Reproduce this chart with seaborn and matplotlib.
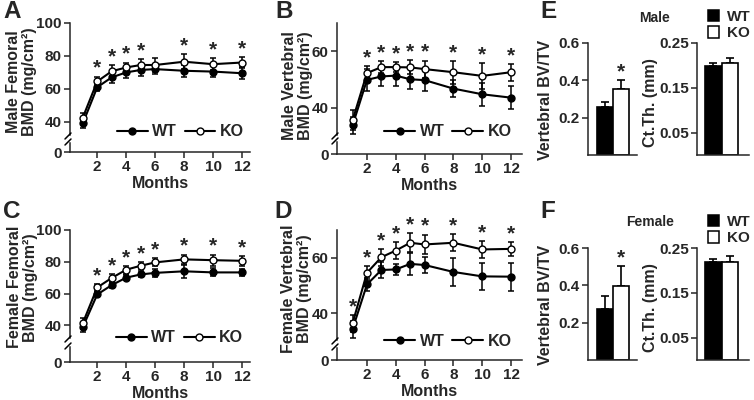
import numpy as np
import pandas as pd
import matplotlib
matplotlib.use("Agg")
import matplotlib.pyplot as plt
import seaborn as sns
from matplotlib.lines import Line2D
from matplotlib.patches import Patch

# ---------------- data ----------------
months = [1, 2, 3, 4, 5, 6, 8, 10, 12]
month_ticks = [2, 4, 6, 8, 10, 12]

# A: male femoral BMD
a_wt = [39.0, 61.0, 67.0, 70.0, 71.5, 72.0, 71.0, 70.5, 69.5]
a_wt_err = [3.0, 2.0, 3.5, 3.5, 3.5, 3.0, 3.5, 3.5, 3.5]
a_ko = [42.5, 64.5, 70.7, 73.0, 74.5, 74.5, 76.5, 75.0, 76.0]
a_ko_err = [3.0, 3.0, 3.5, 3.0, 3.5, 4.5, 4.5, 3.5, 3.5]
a_sig = [2, 3, 4, 5, 8, 10, 12]

# B: male vertebral BMD
b_wt = [33.8, 49.9, 51.1, 51.4, 50.1, 49.8, 46.8, 44.8, 43.6]
b_wt_err = [3.0, 4.0, 3.5, 3.5, 3.5, 4.0, 3.0, 4.0, 4.0]
b_ko = [35.6, 52.3, 54.4, 54.4, 54.3, 53.7, 52.6, 51.3, 52.6]
b_ko_err = [3.5, 2.5, 2.0, 1.7, 2.5, 3.0, 4.0, 4.5, 3.0]
b_sig = [2, 3, 4, 5, 6, 8, 10, 12]

# C: female femoral BMD
c_wt = [38.8, 59.4, 65.3, 70.0, 72.0, 73.0, 74.0, 73.3, 73.3]
c_wt_err = [3.0, 1.5, 2.0, 1.5, 1.5, 2.5, 4.0, 2.5, 2.0]
c_ko = [41.3, 63.8, 69.8, 75.0, 77.5, 79.6, 81.5, 81.0, 80.6]
c_ko_err = [3.0, 2.0, 2.5, 2.5, 2.5, 2.5, 3.0, 3.5, 3.0]
c_sig = [2, 3, 4, 5, 6, 8, 10, 12]

# D: female vertebral BMD
d_wt = [34.3, 50.4, 55.6, 55.8, 57.8, 57.4, 54.9, 53.3, 53.2]
d_wt_err = [3.0, 2.5, 3.0, 2.0, 4.0, 3.0, 5.0, 5.0, 5.0]
d_ko = [36.4, 54.6, 60.2, 62.6, 65.4, 64.8, 65.4, 63.0, 63.2]
d_ko_err = [3.0, 2.5, 3.0, 3.0, 3.5, 3.5, 3.0, 3.0, 2.5]
d_sig = [1, 2, 3, 4, 5, 6, 8, 10, 12]

genotypes = ["WT", "KO"]
# E: male bars
e_bvtv = [0.258, 0.353]
e_bvtv_err = [0.027, 0.047]
e_ctth = [0.199, 0.2056]
e_ctth_err = [0.007, 0.012]
e_sig = ["KO"]
# F: female bars
f_bvtv = [0.272, 0.398]
f_bvtv_err = [0.072, 0.105]
f_ctth = [0.218, 0.2196]
f_ctth_err = [0.008, 0.012]
f_sig = ["KO"]

# ---------------- style ----------------
sns.set_theme(style="ticks")
plt.rcParams["font.family"] = ["Liberation Sans", "DejaVu Sans"]
plt.rcParams["font.weight"] = "bold"
plt.rcParams["axes.labelweight"] = "bold"
plt.rcParams["axes.linewidth"] = 1.1

W, H = 754, 400
fig = plt.figure(figsize=(W / 100, H / 100), dpi=100)


def rect(l, t, r, b):
    return [l / W, 1 - b / H, (r - l) / W, (b - t) / H]


def slash(x, y):
    fig.add_artist(Line2D([(x - 5) / W, (x + 1) / W], [1 - (y + 3) / H, 1 - (y - 3) / H],
                          color="black", lw=1.1))


def letter(x, y_top, s):
    fig.text(x / W, 1 - y_top / H, s, fontsize=17.5, fontweight="bold",
             ha="center", va="top")


def line_panel(top_rect, bot_rect, ylim, yticks, xlim, wt, wt_err, ko, ko_err, sig,
               ylabel, ylab_xy, leg_xy, star_off):
    ax = fig.add_axes(rect(*top_rect))
    axb = fig.add_axes(rect(*bot_rect), sharex=ax)
    ax.errorbar(months, wt, yerr=wt_err, fmt="none", ecolor="black", elinewidth=1.1,
                capsize=2.5, capthick=1.1, zorder=2)
    ax.errorbar(months, ko, yerr=ko_err, fmt="none", ecolor="black", elinewidth=1.1,
                capsize=2.5, capthick=1.1, zorder=2)
    sns.lineplot(x=months, y=wt, ax=ax, color="black", marker="o", markersize=5,
                 markerfacecolor="black", markeredgecolor="black", markeredgewidth=1.0,
                 linewidth=1.5, label="WT", zorder=3)
    sns.lineplot(x=months, y=ko, ax=ax, color="black", marker="o", markersize=5,
                 markerfacecolor="white", markeredgecolor="black", markeredgewidth=1.0,
                 linewidth=1.5, label="KO", zorder=4)
    for m, v, e in zip(months, ko, ko_err):
        if m in sig:
            ax.annotate("*", xy=(m, v + e), xytext=(0, star_off), textcoords="offset points",
                        ha="center", va="center", fontsize=15, fontweight="bold")
    ax.set_ylim(*ylim)
    ax.set_yticks(yticks)
    ax.set_xlim(*xlim)
    sns.despine(ax=ax, top=True, right=True, bottom=True)
    ax.tick_params(axis="x", bottom=False, labelbottom=False)
    ax.tick_params(axis="y", direction="out", length=4, width=1.1, labelsize=11, pad=2)
    ax.set_xlabel("")
    ax.set_ylabel(ylabel, fontsize=11.5, fontweight="bold", linespacing=1.1)
    ax.yaxis.set_label_coords(*ylab_xy)
    ax.legend(loc="center", bbox_to_anchor=leg_xy, ncol=2, frameon=False,
              prop={"weight": "bold", "size": 11.5}, handlelength=1.9,
              handletextpad=0.3, columnspacing=0.5, borderpad=0)
    axb.set_ylim(0, 1)
    axb.set_yticks([0])
    axb.set_xticks(month_ticks)
    sns.despine(ax=axb, top=True, right=True)
    axb.tick_params(axis="y", direction="out", length=4, width=1.1, labelsize=11, pad=2)
    axb.tick_params(axis="x", direction="out", length=4, width=1.1, labelsize=11, pad=2)
    axb.set_xlabel("Months", fontsize=11.5, fontweight="bold", labelpad=1)
    axb.patch.set_alpha(0)
    ax.patch.set_alpha(0)
    # break marks
    slash(top_rect[0], top_rect[3] + 1)
    slash(bot_rect[0], bot_rect[1] - 1)
    return ax


line_panel((70, 23, 250, 135), (70, 143, 250, 152), (32, 100), [40, 60, 80, 100],
           (0.12, 12.55), a_wt, a_wt_err, a_ko, a_ko_err, a_sig,
           "Male Femoral\nBMD (mg/cm²)", (-0.183, 0.48), (0.615, 0.03), 6)
line_panel((337, 23, 522, 135), (337, 142, 522, 154), (30.4, 70), [40, 60],
           (-0.08, 12.76), b_wt, b_wt_err, b_ko, b_ko_err, b_sig,
           "Male Vertebral\nBMD (mg/cm²)", (-0.13, 0.44), (0.6, 0.03), 6)
line_panel((70, 230, 250, 338), (70, 347, 250, 362), (32, 100), [40, 60, 80, 100],
           (0.12, 12.55), c_wt, c_wt_err, c_ko, c_ko_err, c_sig,
           "Female Femoral\nBMD (mg/cm²)", (-0.178, 0.47), (0.61, 0.0), 6)
line_panel((337, 230, 522, 340), (337, 348, 522, 360), (30.4, 70), [40, 60],
           (-0.08, 12.76), d_wt, d_wt_err, d_ko, d_ko_err, d_sig,
           "Female Vertebral\nBMD (mg/cm²)", (-0.135, 0.47), (0.6, -0.01), 6)


def bar_panel(r, vals, errs, sig, ylim, yticks, ylabel, ylab_xy, xlim):
    ax = fig.add_axes(rect(*r))
    df = pd.DataFrame({"Genotype": genotypes, "value": vals})
    sns.barplot(data=df, x="Genotype", y="value", hue="Genotype",
                palette={"WT": "black", "KO": "white"}, edgecolor="black",
                linewidth=1.2, width=1.0, errorbar=None, legend=False, ax=ax, zorder=2)
    ax.errorbar([0, 1], vals, yerr=[[0, 0], errs], fmt="none", ecolor="black",
                elinewidth=1.2, capsize=3, capthick=1.2, zorder=1)
    for i, g in enumerate(genotypes):
        if g in sig:
            ax.annotate("*", xy=(i, vals[i] + errs[i]), xytext=(0, 6),
                        textcoords="offset points", ha="center", va="center",
                        fontsize=15, fontweight="bold")
    ax.set_ylim(*ylim)
    ax.set_yticks(yticks)
    ax.set_xlim(*xlim)
    ax.set_xticks([])
    ax.set_xlabel("")
    sns.despine(ax=ax, top=True, right=True)
    ax.tick_params(axis="y", direction="out", length=4, width=1.1, labelsize=11, pad=2)
    ax.set_ylabel(ylabel, fontsize=11.5, fontweight="bold")
    ax.yaxis.set_label_coords(*ylab_xy)
    ax.patch.set_alpha(0)
    return ax


bar_panel((588, 43, 637, 155), e_bvtv, e_bvtv_err, e_sig, (0, 0.6), [0.2, 0.4, 0.6],
          "Vertebral BV/TV", (-0.714, 0.49), (-1.06, 2.0))
bar_panel((697, 43, 749, 155), e_ctth, e_ctth_err, [], (0, 0.25), [0.05, 0.15, 0.25],
          "Ct.Th. (mm)", (-0.75, 0.47), (-0.98, 2.15))
bar_panel((588, 248, 637, 360), f_bvtv, f_bvtv_err, f_sig, (0, 0.6), [0.2, 0.4, 0.6],
          "Vertebral BV/TV", (-0.714, 0.49), (-1.06, 2.0))
bar_panel((697, 248, 749, 360), f_ctth, f_ctth_err, [], (0, 0.25), [0.05, 0.15, 0.25],
          "Ct.Th. (mm)", (-0.75, 0.47), (-0.98, 2.15))

letter(12, 0.5, "A")
letter(284, 0.5, "B")
letter(12, 200.5, "C")
letter(283, 200.5, "D")
letter(548, 0.5, "E")
letter(548, 200.5, "F")
fig.text(655 / W, 1 - 18 / H, "Male", fontsize=10, fontweight="bold", ha="center", va="center")
fig.text(650 / W, 1 - 222 / H, "Female", fontsize=10, fontweight="bold", ha="center", va="center")

leg_handles = [Patch(facecolor="black", edgecolor="black", linewidth=1.1),
               Patch(facecolor="white", edgecolor="black", linewidth=1.1)]
for ytop in (10, 215):
    fig.legend(leg_handles, genotypes, loc="upper left",
               bbox_to_anchor=(708 / W, 1 - ytop / H), frameon=False,
               prop={"weight": "bold", "size": 11}, handlelength=0.75, handleheight=0.75,
               handletextpad=0.5, labelspacing=0.15, borderpad=0, borderaxespad=0)

fig.savefig("out.png", dpi=100)
